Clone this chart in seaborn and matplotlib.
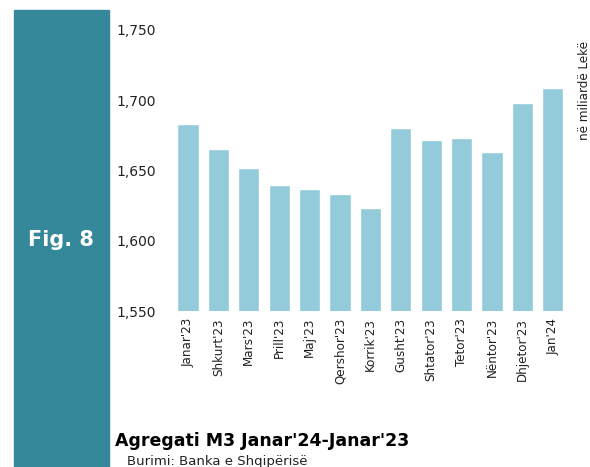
import matplotlib
matplotlib.use("Agg")
import matplotlib.pyplot as plt
import matplotlib.patches as mpatches
import pandas as pd
import seaborn as sns
from matplotlib import font_manager

months = ["Janar'23", "Shkurt'23", "Mars'23", "Prill'23", "Maj'23", "Qershor'23",
          "Korrik'23", "Gusht'23", "Shtator'23", "Tetor'23", "Nëntor'23",
          "Dhjetor'23", "Jan'24"]
m3_values = [1683, 1665, 1652, 1640, 1637, 1633, 1623, 1680, 1672, 1673, 1663, 1698, 1708.5]
y_ticks = [1550, 1600, 1650, 1700, 1750]

BAR = "#94cbdb"
TEAL = "#348899"

sns.set_style("white")

# condensed face for the month labels and unit note
narrow_fp = font_manager.FontProperties(family="DejaVu Sans", stretch="condensed")

df = pd.DataFrame({"month": months, "value": m3_values})

fig = plt.figure(figsize=(5.9, 4.67), dpi=100)
ax = fig.add_axes([0.2929, 0.334, 0.6698, 0.6018])

sns.barplot(data=df, x="month", y="value", color=BAR, saturation=1, width=0.7, ax=ax)

ax.set_ylim(1550, 1750)
ax.set_xlim(-0.5, len(months) - 0.5)
ax.set_yticks(y_ticks)
ax.set_yticklabels([f"{v:,}" for v in y_ticks], fontsize=10, color="#222222")
ax.tick_params(axis="y", length=0, pad=12)
ax.tick_params(axis="x", length=0, pad=5)
for lbl in ax.get_xticklabels():
    lbl.set_rotation(90)
    lbl.set_fontproperties(narrow_fp)
    lbl.set_fontsize(9.5)
    lbl.set_color("#222222")
ax.set_xlabel("")
ax.set_ylabel("")
sns.despine(ax=ax, left=True, bottom=True)

# side band with figure number
fig.patches.append(mpatches.Rectangle((13.5 / 590, 0), 95.5 / 590, 1 - 10 / 467,
                                      transform=fig.transFigure, color=TEAL, zorder=0))
fig.text(61 / 590, 1 - 240 / 467, "Fig. 8", color="white", fontsize=15, fontweight="bold",
         ha="center", va="center")

unit = fig.text(584 / 590, 1 - 90 / 467, "në miliardë Lekë", rotation=90,
                ha="center", va="center", color="#222222")
unit.set_fontproperties(narrow_fp)
unit.set_fontsize(9.5)

fig.text(115 / 590, 1 - 441 / 467, "Agregati M3 Janar'24-Janar'23", fontsize=12.5,
         fontweight="bold", ha="left", va="center", color="black")
fig.text(127 / 590, 1 - 462 / 467, "Burimi: Banka e Shqipërisë", fontsize=9.5,
         ha="left", va="center", color="#222222")

fig.savefig("out.png", dpi=100)
